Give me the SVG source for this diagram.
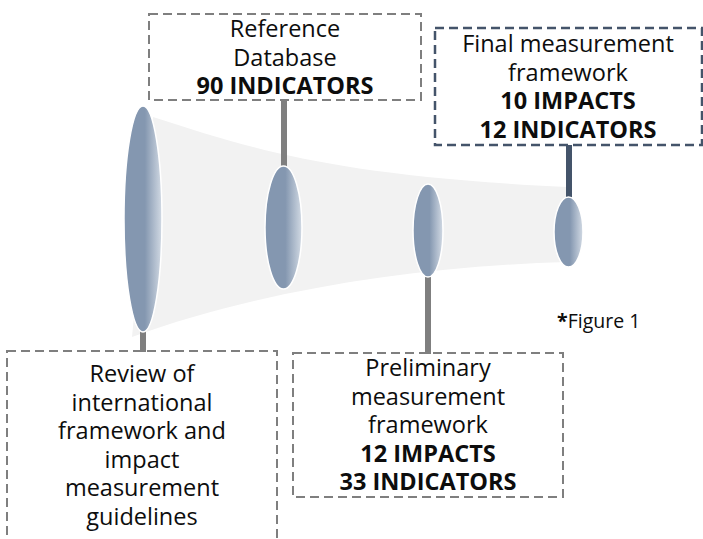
<svg xmlns="http://www.w3.org/2000/svg" width="703" height="539" viewBox="0 0 703 539">
<defs>
<linearGradient id="eg" x1="0" y1="0" x2="1" y2="0">
<stop offset="0" stop-color="#8497b0"/>
<stop offset="0.55" stop-color="#8497b0"/>
<stop offset="1" stop-color="#d2dae4"/>
</linearGradient>
<style>
.t{font-family:"Open Sans","Noto Sans","Liberation Sans",sans-serif;font-size:23.5px;fill:#0d0d0d;text-anchor:middle}
.b{font-weight:bold}
.box{fill:none;stroke:#7f7f7f;stroke-width:2;stroke-dasharray:9 5}
.boxd{fill:none;stroke:#44546a;stroke-width:2.5;stroke-dasharray:9 5}
.c{stroke:#7f7f7f;stroke-width:6;fill:none}
.cd{stroke:#44546a;stroke-width:6;fill:none}
.e{fill:url(#eg);stroke:#ffffff;stroke-width:1.5}
</style>
</defs>
<rect width="703" height="539" fill="#ffffff"/>
<path id="funnel" d="M153,117 C250,148 330,176 567,187 L567,262 C420,266 260,290 132,337 Z" fill="#f2f2f2"/>
<g id="connectors">
<line class="c" x1="284" y1="100" x2="284" y2="167"/>
<line class="c" x1="143" y1="330" x2="143" y2="352"/>
<line class="c" x1="428" y1="275" x2="428" y2="354"/>
<line class="cd" x1="569" y1="145" x2="569" y2="199"/>
</g>
<g id="e1"><ellipse class="e" cx="143" cy="219" rx="19" ry="113"/></g>
<g id="e2"><ellipse class="e" cx="283.5" cy="227.5" rx="18.5" ry="61.5"/></g>
<g id="e3"><ellipse class="e" cx="428" cy="230.5" rx="15" ry="46.5"/></g>
<g id="e4"><ellipse class="e" cx="568.5" cy="232" rx="14.5" ry="35"/></g>
<g id="reference">
<rect class="box" x="149" y="14" width="272" height="86"/>
<text class="t" x="285" y="37">Reference</text>
<text class="t" x="285" y="65.5">Database</text>
<text class="t b" x="285" y="94">90 INDICATORS</text>
</g>
<g id="final">
<rect class="boxd" x="435" y="28" width="267" height="117"/>
<text class="t" x="568" y="52">Final measurement</text>
<text class="t" x="568" y="80.5">framework</text>
<text class="t b" x="568" y="109">10 IMPACTS</text>
<text class="t b" x="568" y="137.5">12 INDICATORS</text>
</g>
<g id="review">
<rect class="box" x="7" y="351" width="270" height="200"/>
<text class="t" x="142" y="382">Review of</text>
<text class="t" x="142" y="410.5">international</text>
<text class="t" x="142" y="439">framework and</text>
<text class="t" x="142" y="467.5">impact</text>
<text class="t" x="142" y="496">measurement</text>
<text class="t" x="142" y="524.5">guidelines</text>
</g>
<g id="preliminary">
<rect class="box" x="293" y="353" width="270" height="144"/>
<text class="t" x="428" y="376">Preliminary</text>
<text class="t" x="428" y="404.5">measurement</text>
<text class="t" x="428" y="433">framework</text>
<text class="t b" x="428" y="461.5">12 IMPACTS</text>
<text class="t b" x="428" y="490">33 INDICATORS</text>
</g>
<g id="note">
<text x="557" y="328" style="font-family:'Open Sans','Noto Sans','Liberation Sans',sans-serif;font-size:19.5px;fill:#0d0d0d"><tspan font-weight="bold">*</tspan>Figure 1</text>
</g>
</svg>
